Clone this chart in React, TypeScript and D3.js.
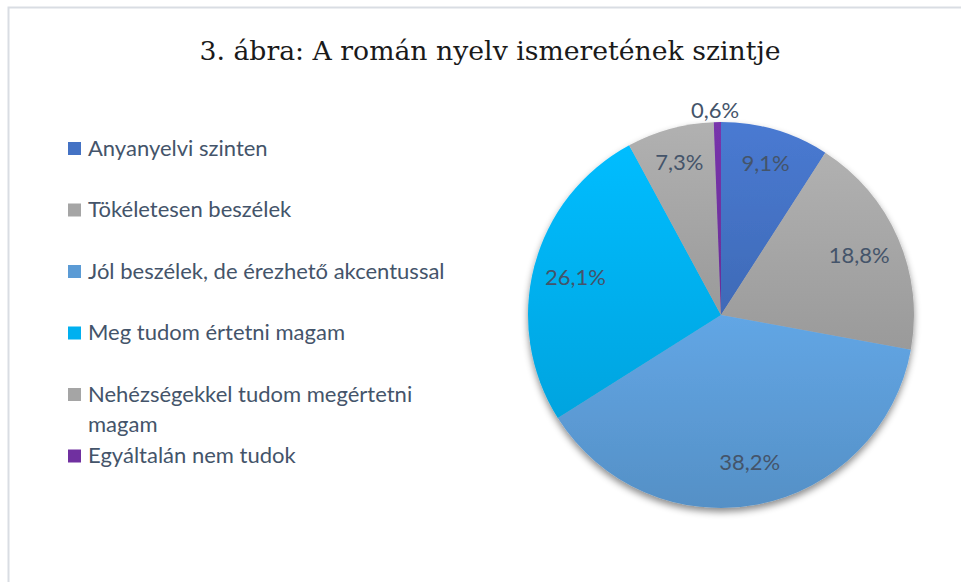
import React, { useEffect, useRef } from "react";
import * as d3 from "d3";

const categories = [
  "Anyanyelvi szinten",
  "Tökéletesen beszélek",
  "Jól beszélek, de érezhető akcentussal",
  "Meg tudom értetni magam",
  "Nehézségekkel tudom megértetni magam",
  "Egyáltalán nem tudok",
];
const values = [9.1, 18.8, 38.2, 26.1, 7.3, 0.6];
const valueLabels = ["9,1%", "18,8%", "38,2%", "26,1%", "7,3%", "0,6%"];
const colors = ["#4472c4", "#a5a5a5", "#5b9bd5", "#00b0f0", "#a5a5a5", "#7030a0"];
// legend lines (wrapped as in the original)
const legendLines = [
  ["Anyanyelvi szinten"],
  ["Tökéletesen beszélek"],
  ["Jól beszélek, de érezhető akcentussal"],
  ["Meg tudom értetni magam"],
  ["Nehézségekkel tudom megértetni", "magam"],
  ["Egyáltalán nem tudok"],
];

const App = () => {
  const ref = useRef<SVGSVGElement>(null);

  useEffect(() => {
    const svg = d3.select(ref.current);
    svg.selectAll("*").remove();

    const width = 961;
    const height = 582;
    const cx = 721;
    const cy = 315;
    const r = 193;
    const textColor = "#44546a";
    const font = "Lato, 'Open Sans', sans-serif";

    const defs = svg.append("defs");
    const shadow = defs
      .append("filter")
      .attr("id", "shadow")
      .attr("x", "-20%")
      .attr("y", "-20%")
      .attr("width", "140%")
      .attr("height", "140%");
    shadow
      .append("feDropShadow")
      .attr("dx", 0)
      .attr("dy", 4)
      .attr("stdDeviation", 3.5)
      .attr("flood-color", "#000")
      .attr("flood-opacity", 0.45);

    colors.forEach((c, i) => {
      const g = defs
        .append("linearGradient")
        .attr("id", "grad" + i)
        .attr("x1", 0)
        .attr("y1", 0)
        .attr("x2", 0)
        .attr("y2", 1);
      g.append("stop").attr("offset", "0%").attr("stop-color", d3.color(c)!.brighter(0.2).formatHex());
      g.append("stop").attr("offset", "100%").attr("stop-color", d3.color(c)!.darker(0.2).formatHex());
    });

    // border
    svg
      .append("path")
      .attr("d", `M8.5,${height} L8.5,7.5 L${width},7.5`)
      .attr("fill", "none")
      .attr("stroke", "#d9dde3")
      .attr("stroke-width", 2);

    // title
    svg
      .append("text")
      .attr("x", 490)
      .attr("y", 60)
      .attr("text-anchor", "middle")
      .style("font-family", "'DejaVu Serif', 'Liberation Serif', serif")
      .style("font-size", "26.7px")
      .attr("fill", "#1a1a1a")
      .text("3. ábra: A román nyelv ismeretének szintje");

    const pie = d3
      .pie<number>()
      .sort(null)
      .value((d) => d);
    const arcs = pie(values);
    const arc = d3.arc<d3.PieArcDatum<number>>().innerRadius(0).outerRadius(r);

    const g = svg.append("g").attr("transform", `translate(${cx},${cy})`);
    g.append("g")
      .attr("filter", "url(#shadow)")
      .selectAll("path")
      .data(arcs)
      .enter()
      .append("path")
      .attr("d", arc)
      .attr("fill", (d, i) => `url(#grad${i})`);

    // data labels
    const bigArc = d3.arc<d3.PieArcDatum<number>>().innerRadius(r * 0.78).outerRadius(r * 0.78);
    const smallArc = d3.arc<d3.PieArcDatum<number>>().innerRadius(r * 0.82).outerRadius(r * 0.82);
    g.selectAll("text.lbl")
      .data(arcs)
      .enter()
      .append("text")
      .attr("class", "lbl")
      .attr("transform", (d, i) => {
        if (i === 5) {
          return `translate(${smallArc.centroid(d)[0] - 3},${-r - 12})`;
        }
        const la = values[i] < 10 ? smallArc : bigArc;
        const [x, y] = la.centroid(d);
        return `translate(${x},${y})`;
      })
      .attr("text-anchor", "middle")
      .attr("dy", "0.35em")
      .style("font-family", font)
      .style("font-size", "22px")
      .attr("fill", textColor)
      .text((d, i) => valueLabels[i]);

    // legend
    const legendY = d3.scaleBand<string>().domain(categories).range([148, 517]);
    const legend = svg.append("g");
    categories.forEach((c, i) => {
      const y0 = legendY(c)!;
      legend
        .append("rect")
        .attr("x", 68)
        .attr("y", y0 - 6)
        .attr("width", 13)
        .attr("height", 13)
        .attr("fill", colors[i]);
      legendLines[i].forEach((line, j) => {
        legend
          .append("text")
          .attr("x", 88)
          .attr("y", y0 + j * 30)
          .attr("dy", "0.35em")
          .style("font-family", font)
          .style("font-size", "22px")
          .attr("fill", textColor)
          .text(line);
      });
    });
  }, []);

  return <svg ref={ref} width={961} height={582} style={{ position: "absolute", left: 0, top: 0, background: "#fff" }} />;
};

export default App;
